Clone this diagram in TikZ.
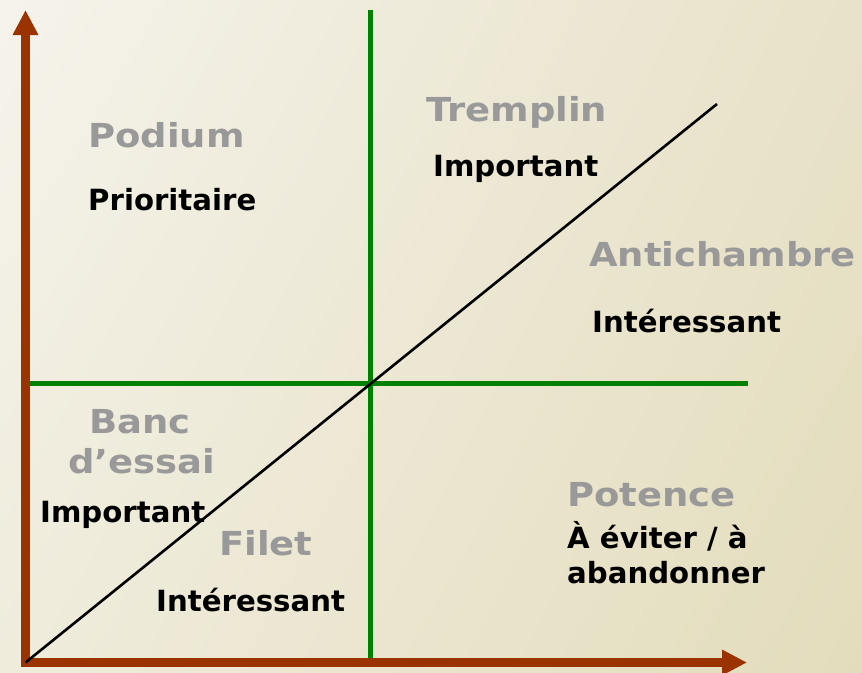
\documentclass[tikz,border=0pt]{standalone}
\usepackage{fontspec}
\setmainfont{DejaVu Sans}
\newfontfamily\grayfont[FakeStretch=1.12]{DejaVu Sans}
\usetikzlibrary{arrows.meta,shadings}
\definecolor{axisbrown}{RGB}{155,51,0}
\definecolor{quadgreen}{RGB}{0,128,0}
\definecolor{labelgray}{RGB}{153,153,153}
\definecolor{bgTL}{RGB}{245,243,235}
\definecolor{bgTR}{RGB}{232,226,201}
\definecolor{bgBL}{RGB}{239,236,220}
\definecolor{bgBR}{RGB}{227,220,188}
\tikzset{
  axisline/.style={draw=axisbrown, line width=9pt, line join=miter,
    {Triangle[length=25pt,width=24pt]}-{Triangle[length=25pt,width=24pt]}},
  quadline/.style={draw=quadgreen, line width=5.5pt},
  diagline/.style={draw=black, line width=2.6pt},
  zonetitle/.style={font=\grayfont\bfseries\fontsize{33}{40}\selectfont, text=labelgray, inner sep=0pt, anchor=base west},
  zonenote/.style={font=\bfseries\fontsize{29.2}{35}\selectfont, text=black, inner sep=0pt, anchor=base west}
}
\begin{document}
\begin{tikzpicture}[x=1pt,y=-1pt]
\shade[upper left=bgTL, upper right=bgTR, lower left=bgBL, lower right=bgBR] (0,0) rectangle (862,672);
\useasboundingbox (0,0) rectangle (862,672);

% coordinates
\coordinate (O) at (25.5,662.5);
\coordinate (ytip) at (25.5,10);
\coordinate (xtip) at (747,662.5);
\coordinate (vtop) at (370.5,10);
\coordinate (vbot) at (370.5,663);
\coordinate (hleft) at (29,383.5);
\coordinate (hright) at (748,383.5);
\coordinate (dend) at (717,104);

% green quadrant lines
\draw[quadline] (vtop) -- (vbot);
\draw[quadline] (hleft) -- (hright);

% axes
\draw[axisline] (ytip) |- (xtip);

% diagonal
\draw[diagline] (O) -- (dend);

% labels
\node[zonetitle] (podium) at (88,147) {Podium};
\node[zonenote] (prio) at (88,210) {Prioritaire};
\node[zonetitle] (tremplin) at (426,121) {Tremplin};
\node[zonenote] (impA) at (433,176) {Important};
\node[zonetitle] (antich) at (589,266) {Antichambre};
\node[zonenote] (interA) at (592,332) {Intéressant};
\node[zonetitle] (banc) at (89,433) {Banc};
\node[zonetitle] (dessai) at (68,473) {d’essai};
\node[zonenote] (impB) at (40,522) {Important};
\node[zonetitle] (filet) at (219,555) {Filet};
\node[zonenote] (interB) at (156,611) {Intéressant};
\node[zonetitle] (potence) at (567,506) {Potence};
\node[zonenote] (eviter) at (567,548) {À éviter / à};
\node[zonenote] (aband) at (567,583) {abandonner};
\end{tikzpicture}
\end{document}
